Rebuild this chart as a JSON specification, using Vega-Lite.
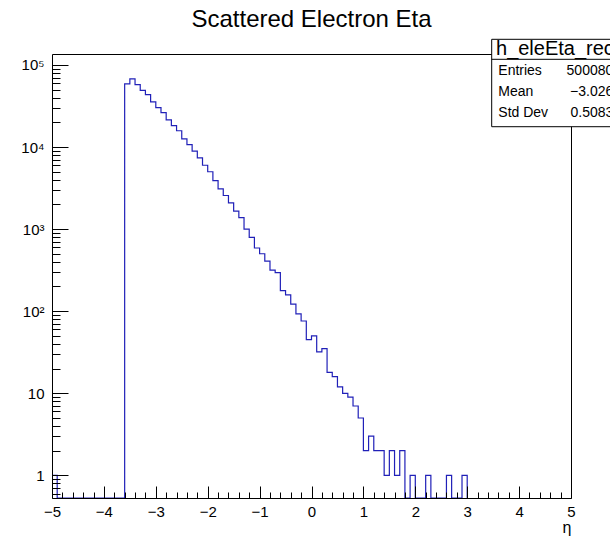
{
  "$schema": "https://vega.github.io/schema/vega-lite/v6.json",
  "width": 519,
  "height": 444,
  "autosize": {"type": "none"},
  "padding": {"left": 52, "top": 54, "right": 39, "bottom": 44},
  "background": "white",
  "config": {
    "view": {"stroke": null},
    "font": "Liberation Sans",
    "axis": {"grid": false, "domainColor": "black", "tickColor": "black", "labelColor": "black", "titleColor": "black", "labelFont": "Liberation Sans", "titleFont": "Liberation Sans"}
  },
  "title": {"text": "Scattered Electron Eta", "fontSize": 24, "font": "Liberation Sans", "fontWeight": "normal", "anchor": "middle", "frame": "group", "offset": 7, "color": "black"},
  "data": {"values": [
    {"eta": -5.0, "count": 1}, {"eta": -4.9, "count": 0}, {"eta": -4.8, "count": 0}, {"eta": -4.7, "count": 0},
    {"eta": -4.6, "count": 0}, {"eta": -4.5, "count": 0}, {"eta": -4.4, "count": 0}, {"eta": -4.3, "count": 0},
    {"eta": -4.2, "count": 0}, {"eta": -4.1, "count": 0}, {"eta": -4.0, "count": 0}, {"eta": -3.9, "count": 0},
    {"eta": -3.8, "count": 0}, {"eta": -3.7, "count": 0},
    {"eta": -3.6, "count": 58900}, {"eta": -3.5, "count": 67600}, {"eta": -3.4, "count": 57500}, {"eta": -3.3, "count": 49000},
    {"eta": -3.2, "count": 43600}, {"eta": -3.1, "count": 35500}, {"eta": -3.0, "count": 30200}, {"eta": -2.9, "count": 26300},
    {"eta": -2.8, "count": 21400}, {"eta": -2.7, "count": 18200}, {"eta": -2.6, "count": 15800}, {"eta": -2.5, "count": 12600},
    {"eta": -2.4, "count": 10700}, {"eta": -2.3, "count": 8900}, {"eta": -2.2, "count": 7400}, {"eta": -2.1, "count": 6000},
    {"eta": -2.0, "count": 5000}, {"eta": -1.9, "count": 3900}, {"eta": -1.8, "count": 3100}, {"eta": -1.7, "count": 2570},
    {"eta": -1.6, "count": 2090}, {"eta": -1.5, "count": 1660}, {"eta": -1.4, "count": 1380}, {"eta": -1.3, "count": 1000},
    {"eta": -1.2, "count": 794}, {"eta": -1.1, "count": 589}, {"eta": -1.0, "count": 501}, {"eta": -0.9, "count": 407},
    {"eta": -0.8, "count": 316}, {"eta": -0.7, "count": 295}, {"eta": -0.6, "count": 178}, {"eta": -0.5, "count": 158},
    {"eta": -0.4, "count": 122}, {"eta": -0.3, "count": 93}, {"eta": -0.2, "count": 76}, {"eta": -0.1, "count": 45},
    {"eta": 0.0, "count": 50}, {"eta": 0.1, "count": 32}, {"eta": 0.2, "count": 35}, {"eta": 0.3, "count": 18},
    {"eta": 0.4, "count": 16}, {"eta": 0.5, "count": 12}, {"eta": 0.6, "count": 10}, {"eta": 0.7, "count": 9},
    {"eta": 0.8, "count": 7}, {"eta": 0.9, "count": 5}, {"eta": 1.0, "count": 2}, {"eta": 1.1, "count": 3},
    {"eta": 1.2, "count": 2}, {"eta": 1.3, "count": 2}, {"eta": 1.4, "count": 1}, {"eta": 1.5, "count": 2},
    {"eta": 1.6, "count": 1}, {"eta": 1.7, "count": 2}, {"eta": 1.8, "count": 0}, {"eta": 1.9, "count": 1},
    {"eta": 2.0, "count": 0}, {"eta": 2.1, "count": 0}, {"eta": 2.2, "count": 1}, {"eta": 2.3, "count": 0},
    {"eta": 2.4, "count": 0}, {"eta": 2.5, "count": 0}, {"eta": 2.6, "count": 1}, {"eta": 2.7, "count": 0},
    {"eta": 2.8, "count": 0}, {"eta": 2.9, "count": 1}, {"eta": 3.0, "count": 0}
  ]},
  "resolve": {"axis": {"x": "independent", "y": "independent"}},
  "layer": [
    {
      "mark": {"type": "line", "interpolate": "step-after", "color": "#2020b8", "strokeWidth": 1.2, "clip": true},
      "encoding": {
        "x": {"field": "eta", "type": "quantitative",
              "scale": {"domain": [-5, 5], "nice": false, "zero": false},
              "axis": {"orient": "bottom", "values": [-5,-4,-3,-2,-1,0,1,2,3,4,5], "format": "d", "ticks": false, "domain": true, "zindex": 1,
                       "labelFontSize": 15, "labelPadding": 6, "labelFlush": false,
                       "title": "η", "titleFontSize": 16, "titleFontWeight": "normal", "titleAnchor": "end", "titlePadding": 0}},
        "y": {"field": "count", "type": "quantitative",
              "scale": {"type": "log", "domain": [0.53, 136000], "nice": false, "clamp": true},
              "axis": {"orient": "left", "values": [1, 10, 100, 1000, 10000, 100000], "ticks": false, "domain": true, "zindex": 1,
                       "labelFontSize": 15, "labelPadding": 8, "labelFlush": false, "title": null,
                       "labelExpr": "datum.value == 100000 ? '10⁵' : datum.value == 10000 ? '10⁴' : datum.value == 1000 ? '10³' : datum.value == 100 ? '10²' : datum.value == 10 ? '10' : '1'"}}
      }
    },
    {
      "mark": {"type": "point", "opacity": 0},
      "encoding": {
        "x": {"field": "eta", "type": "quantitative",
              "axis": {"orient": "bottom", "values": [-5,-4,-3,-2,-1,0,1,2,3,4,5], "tickSize": -12, "labels": false, "domain": false, "title": null, "zindex": 1}},
        "y": {"field": "count", "type": "quantitative",
              "axis": {"orient": "left", "values": [1, 10, 100, 1000, 10000, 100000], "tickSize": -16, "labels": false, "domain": false, "title": null, "zindex": 1}}
      }
    },
    {
      "mark": {"type": "point", "opacity": 0},
      "encoding": {
        "x": {"field": "eta", "type": "quantitative",
              "axis": {"orient": "bottom", "values": [-4.8,-4.6,-4.4,-4.2,-3.8,-3.6,-3.4,-3.2,-2.8,-2.6,-2.4,-2.2,-1.8,-1.6,-1.4,-1.2,-0.8,-0.6,-0.4,-0.2,0.2,0.4,0.6,0.8,1.2,1.4,1.6,1.8,2.2,2.4,2.6,2.8,3.2,3.4,3.6,3.8,4.2,4.4,4.6,4.8], "tickSize": -6, "labels": false, "domain": false, "title": null, "zindex": 1}},
        "y": {"field": "count", "type": "quantitative",
              "axis": {"orient": "left", "values": [0.6,0.7,0.8,0.9,2,3,4,5,6,7,8,9,20,30,40,50,60,70,80,90,200,300,400,500,600,700,800,900,2000,3000,4000,5000,6000,7000,8000,9000,20000,30000,40000,50000,60000,70000,80000,90000], "tickSize": -8, "labels": false, "domain": false, "title": null, "zindex": 1}}
      }
    },
    {
      "mark": {"type": "point", "opacity": 0},
      "encoding": {
        "x": {"field": "eta", "type": "quantitative",
              "axis": {"orient": "top", "ticks": false, "labels": false, "domain": true, "title": null, "zindex": 0}},
        "y": {"field": "count", "type": "quantitative",
              "axis": {"orient": "right", "ticks": false, "labels": false, "domain": true, "title": null, "zindex": 0}}
      }
    },
    {
      "data": {"values": [{}]},
      "mark": {"type": "rect", "fill": "white", "stroke": "black", "strokeWidth": 1, "yOffset": -14.7},
      "encoding": {
        "x": {"datum": 3.472, "type": "quantitative", "axis": null},
        "x2": {"datum": 7},
        "y": {"datum": 136000, "type": "quantitative", "axis": null},
        "y2": {"datum": 17690}
      }
    },
    {
      "data": {"values": [{}]},
      "mark": {"type": "rule", "color": "black", "strokeWidth": 1},
      "encoding": {
        "x": {"datum": 3.472, "type": "quantitative", "axis": null},
        "x2": {"datum": 7},
        "y": {"datum": 117200, "type": "quantitative", "axis": null}
      }
    },
    {
      "data": {"values": [{}]},
      "mark": {"type": "text", "align": "left", "baseline": "middle", "fontSize": 20, "font": "Liberation Sans", "color": "black", "dy": -4.7},
      "encoding": {
        "x": {"datum": 3.555, "type": "quantitative", "axis": null},
        "y": {"datum": 136000, "type": "quantitative", "axis": null},
        "text": {"value": "h_eleEta_reco"}
      }
    },
    {
      "data": {"values": [{"label": "Entries", "value": "500080", "pos": 84430}, {"label": "Mean", "value": "−3.026", "pos": 46440}, {"label": "Std Dev", "value": "0.5083", "pos": 25630}]},
      "layer": [
        {
          "mark": {"type": "text", "align": "left", "baseline": "middle", "fontSize": 14, "font": "Liberation Sans", "color": "black"},
          "encoding": {
            "x": {"datum": 3.599, "type": "quantitative", "axis": null},
            "y": {"field": "pos", "type": "quantitative", "axis": null},
            "text": {"field": "label"}
          }
        },
        {
          "mark": {"type": "text", "align": "right", "baseline": "middle", "fontSize": 14, "font": "Liberation Sans", "color": "black"},
          "encoding": {
            "x": {"datum": 5.815, "type": "quantitative", "axis": null},
            "y": {"field": "pos", "type": "quantitative", "axis": null},
            "text": {"field": "value"}
          }
        }
      ]
    }
  ]
}
